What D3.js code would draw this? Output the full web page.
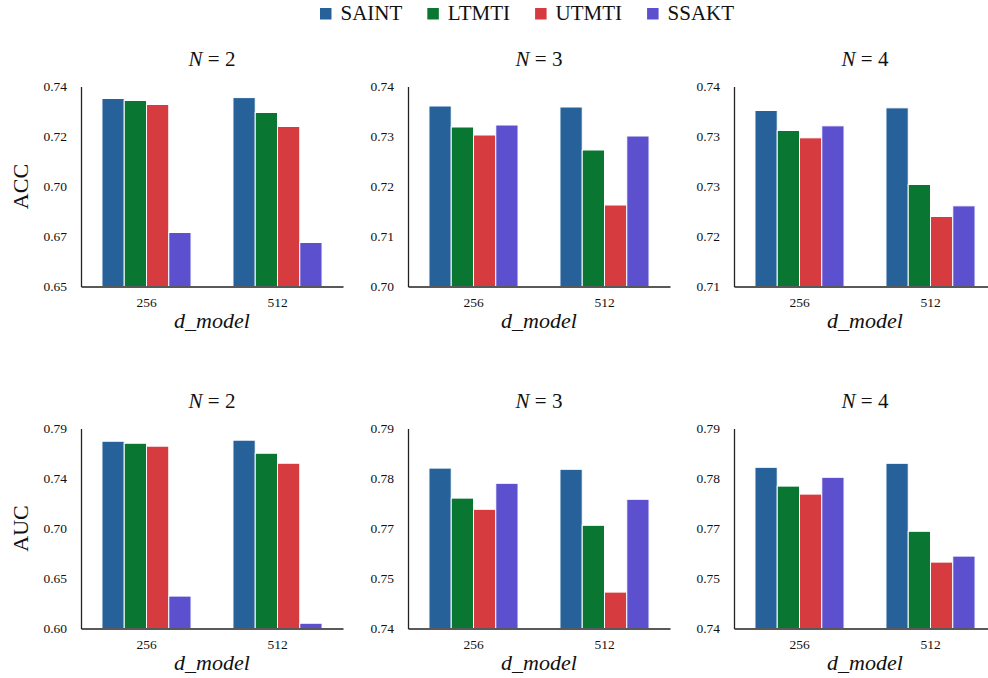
<!DOCTYPE html>
<html>
<head>
<meta charset="utf-8">
<script src="https://cdn.jsdelivr.net/npm/d3@7"></script>
</head>
<body style="margin:0;background:#fff">
<div id="chart"></div>
<script>
const models = ["SAINT", "LTMTI", "UTMTI", "SSAKT"];
const colors = ["#266299", "#097632", "#d63b40", "#5c50ce"];
const dModels = ["256", "512"];
const layerCounts = [2, 3, 4];
const metrics = ["ACC", "AUC"];

// values per panel: [d_model 256, d_model 512], each in model order
const accN2 = [[0.7346, 0.7337, 0.7319, 0.6743], [0.7350, 0.7283, 0.7220, 0.6698]];
const accN3 = [[0.7361, 0.7319, 0.7303, 0.7323], [0.7359, 0.7273, 0.7163, 0.7301]];
const accN4 = [[0.7364, 0.7334, 0.7323, 0.7341], [0.7368, 0.7253, 0.7205, 0.7221]];
const aucN2 = [[0.7779, 0.7760, 0.7732, 0.6308], [0.7789, 0.7665, 0.7570, 0.6050]];
const aucN3 = [[0.7801, 0.7726, 0.7698, 0.7763], [0.7798, 0.7658, 0.7491, 0.7723]];
const aucN4 = [[0.7803, 0.7756, 0.7736, 0.7778], [0.7813, 0.7643, 0.7566, 0.7581]];

// y ticks and their printed labels
const accN2Ticks = [0.65, 0.6725, 0.695, 0.7175, 0.74];
const accN2Labels = ["0.65", "0.67", "0.70", "0.72", "0.74"];
const accN3Ticks = [0.70, 0.71, 0.72, 0.73, 0.74];
const accN3Labels = ["0.70", "0.71", "0.72", "0.73", "0.74"];
const accN4Ticks = [0.71, 0.7175, 0.725, 0.7325, 0.74];
const accN4Labels = ["0.71", "0.72", "0.73", "0.73", "0.74"];
const aucN2Ticks = [0.60, 0.6475, 0.695, 0.7425, 0.79];
const aucN2Labels = ["0.60", "0.65", "0.70", "0.74", "0.79"];
const aucN3Ticks = [0.74, 0.7525, 0.765, 0.7775, 0.79];
const aucN3Labels = ["0.74", "0.75", "0.77", "0.78", "0.79"];
const aucN4Ticks = aucN3Ticks;
const aucN4Labels = aucN3Labels;

const panels = [
  { row: 0, col: 0, values: accN2, ticks: accN2Ticks, labels: accN2Labels },
  { row: 0, col: 1, values: accN3, ticks: accN3Ticks, labels: accN3Labels },
  { row: 0, col: 2, values: accN4, ticks: accN4Ticks, labels: accN4Labels },
  { row: 1, col: 0, values: aucN2, ticks: aucN2Ticks, labels: aucN2Labels },
  { row: 1, col: 1, values: aucN3, ticks: aucN3Ticks, labels: aucN3Labels },
  { row: 1, col: 2, values: aucN4, ticks: aucN4Ticks, labels: aucN4Labels }
];

const serif = "'Liberation Serif', 'Times New Roman', serif";
const svgWidth = 988, svgHeight = 678;
const panelLeft = [81, 408, 734];
const panelTop = [86.5, 428.5];
const plotW = 262, plotH = 200;

const svg = d3.select("#chart").append("svg")
  .attr("width", svgWidth)
  .attr("height", svgHeight);

// legend
const legend = svg.append("g");
let lx = 320;
models.forEach((m, i) => {
  legend.append("rect")
    .attr("x", lx).attr("y", 8)
    .attr("width", 11.5).attr("height", 11.5)
    .attr("fill", colors[i]);
  const t = legend.append("text")
    .attr("x", lx + 20.5).attr("y", 19.5)
    .style("font-family", serif)
    .style("font-size", "21px")
    .attr("fill", "#111")
    .text(m);
  lx += 20.5 + t.node().getComputedTextLength() + 25;
});

const x0 = d3.scaleBand().domain(dModels).range([0, plotW]).paddingInner(0.32).paddingOuter(0.16);
const x1 = d3.scaleBand().domain(models).range([0, x0.bandwidth()]);

panels.forEach(p => {
  const g = svg.append("g")
    .attr("transform", `translate(${panelLeft[p.col]},${panelTop[p.row]})`);

  const y = d3.scaleLinear()
    .domain([p.ticks[0], p.ticks[p.ticks.length - 1]])
    .range([plotH, 0]);

  // bars
  const groups = g.selectAll("g.grp")
    .data(dModels)
    .enter().append("g")
    .attr("class", "grp")
    .attr("transform", d => `translate(${x0(d)},0)`);

  groups.selectAll("rect")
    .data((d, i) => p.values[i].map((v, j) => ({ model: models[j], value: v, color: colors[j] })))
    .enter().append("rect")
    .attr("x", d => x1(d.model))
    .attr("y", d => y(d.value))
    .attr("width", x1.bandwidth())
    .attr("height", d => plotH - y(d.value))
    .attr("fill", d => d.color)
    .attr("stroke", "#fff")
    .attr("stroke-width", 1);

  // y axis
  const yAxis = g.append("g")
    .call(d3.axisLeft(y).tickValues(p.ticks).tickFormat((d, i) => p.labels[i]).tickSize(0).tickPadding(14));
  yAxis.attr("font-family", null);
  yAxis.selectAll("text").style("font-family", serif).style("font-size", "13.5px").attr("fill", "#111");
  yAxis.select(".domain").attr("stroke", "#222").attr("stroke-width", 1.3);

  // x axis
  const xAxis = g.append("g")
    .attr("transform", `translate(0,${plotH})`)
    .call(d3.axisBottom(x0).tickSize(0).tickPadding(11));
  xAxis.attr("font-family", null);
  xAxis.selectAll("text").style("font-family", serif).style("font-size", "13.5px").attr("fill", "#111");
  xAxis.select(".domain").attr("stroke", "#222").attr("stroke-width", 1.3);

  // x title
  g.append("text")
    .attr("x", plotW / 2).attr("y", plotH + 41)
    .attr("text-anchor", "middle")
    .style("font-family", serif)
    .style("font-size", "22px")
    .style("font-style", "italic")
    .attr("fill", "#111")
    .text("d_model");

  // panel title
  const title = g.append("text")
    .attr("x", plotW / 2).attr("y", -21)
    .attr("text-anchor", "middle")
    .style("font-family", serif)
    .style("font-size", "21px")
    .attr("fill", "#111");
  title.append("tspan").style("font-style", "italic").text("N");
  title.append("tspan").text(" = " + layerCounts[p.col]);

  // y title on first column
  if (p.col === 0) {
    g.append("text")
      .attr("transform", `translate(${-53},${plotH / 2}) rotate(-90)`)
      .attr("text-anchor", "middle")
      .style("font-family", serif)
      .style("font-size", "22px")
      .attr("fill", "#111")
      .text(metrics[p.row]);
  }
});
</script>
</body>
</html>
